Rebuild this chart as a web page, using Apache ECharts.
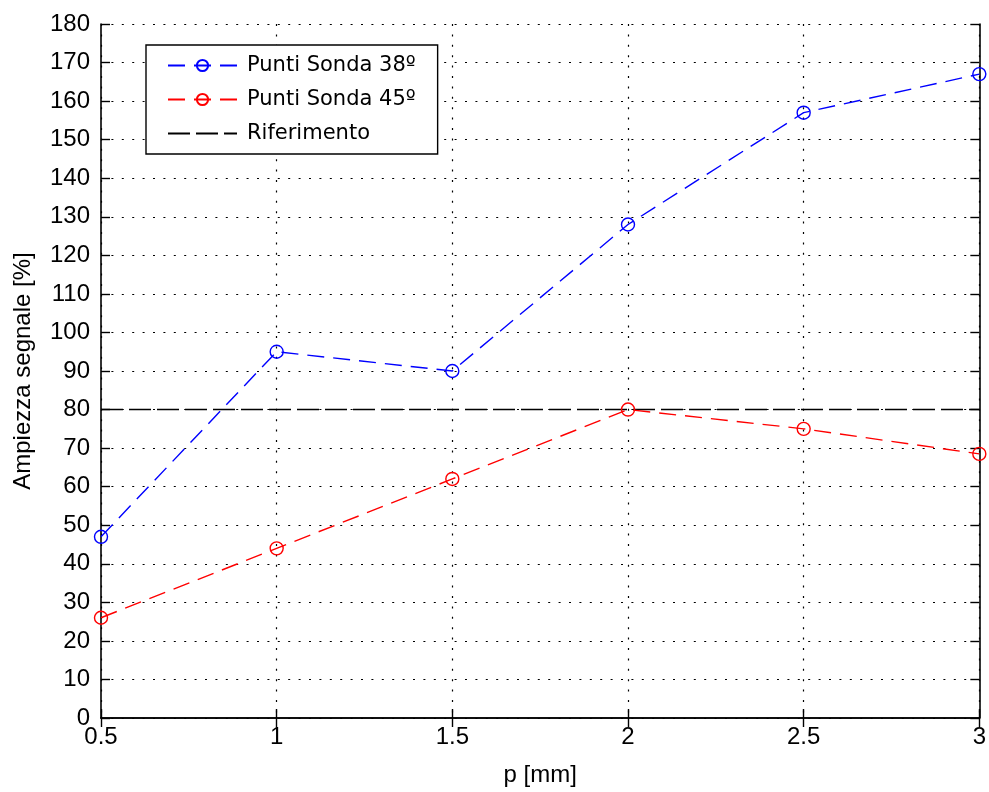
<!DOCTYPE html>
<html>
<head>
<meta charset="utf-8">
<script src="https://cdn.jsdelivr.net/npm/echarts@6/dist/echarts.min.js"></script>
<style>
  html, body { margin: 0; padding: 0; background: #fff; }
  #chart { width: 989px; height: 792px; }
</style>
</head>
<body>
<div id="chart"></div>
<script>
// Probe spacing p [mm]
const pValues = [0.5, 1, 1.5, 2, 2.5, 3];
// Signal amplitude [%] for each probe angle
const sonda38 = [47, 95, 90, 128, 157, 167];
const sonda45 = [26, 44, 62, 80, 75, 68.5];
// Reference level [%] across the p range
const riferimentoX = [0.5, 3];
const riferimentoY = [80, 80];

const seriesNames = ['Punti Sonda 38º', 'Punti Sonda 45º', 'Riferimento'];
const xAxisName = 'p [mm]';
const yAxisName = 'Ampiezza segnale [%]';

const FONT = '"Liberation Sans", Arial, sans-serif';
const zip = (xs, ys) => xs.map((x, i) => [x, ys[i]]);
const CLEAR = 'rgba(0,0,0,0)';

const dotted = { color: '#000', width: 1.2, type: [2, 8.4] };
const frame = { show: true, lineStyle: { color: '#000', width: 1.6 } };
const innerTick = { show: true, inside: true, length: 9, lineStyle: { color: '#000', width: 1.4 } };

function probeSeries(name, data, color) {
  return {
    name, type: 'line', data, xAxisIndex: 0, yAxisIndex: 0,
    symbol: 'circle', symbolSize: 13,
    itemStyle: { color: CLEAR, borderColor: color, borderWidth: 1.4 },
    lineStyle: { color, width: 1.4, type: [17, 9] },
    emphasis: { disabled: true },
    z: 3
  };
}

const chart = echarts.init(document.getElementById('chart'), null, { renderer: 'canvas' });
chart.setOption({
  animation: false,
  backgroundColor: '#fff',
  grid: { left: 101, right: 7, top: 24, bottom: 74, containLabel: false },
  legend: {
    orient: 'vertical', left: 146, top: 45,
    padding: [10, 22, 10, 21],
    itemWidth: 69, itemHeight: 14, itemGap: 13,
    backgroundColor: '#fff', borderColor: '#000', borderWidth: 1.4, borderRadius: 0,
    textStyle: { fontFamily: '"DejaVu Sans", sans-serif', fontSize: 21, color: '#000', padding: [0, 0, 0, 5] },
    data: [
      seriesNames[0],
      seriesNames[1],
      { name: seriesNames[2], itemStyle: { color: CLEAR, borderColor: CLEAR, borderWidth: 0 } }
    ],
    selectedMode: false
  },
  xAxis: [
    {
      type: 'value', position: 'bottom', min: 0.5, max: 3, interval: 0.5,
      name: xAxisName, nameLocation: 'middle', nameGap: 45,
      nameTextStyle: { fontFamily: FONT, fontSize: 24, color: '#000' },
      axisLine: frame, axisTick: innerTick,
      axisLabel: { fontFamily: FONT, fontSize: 24, color: '#000', margin: 7 },
      splitLine: { show: true, lineStyle: dotted }
    },
    {
      type: 'value', position: 'top', min: 0.5, max: 3, interval: 0.5,
      axisLine: frame, axisTick: innerTick,
      axisLabel: { show: false }, splitLine: { show: false }
    }
  ],
  yAxis: [
    {
      type: 'value', position: 'left', min: 0, max: 180, interval: 10,
      name: yAxisName, nameLocation: 'middle', nameGap: 66, nameRotate: 90,
      nameTextStyle: { fontFamily: FONT, fontSize: 24, color: '#000' },
      axisLine: frame, axisTick: innerTick,
      axisLabel: { fontFamily: FONT, fontSize: 24, color: '#000', margin: 11 },
      splitLine: { show: true, lineStyle: dotted }
    },
    {
      type: 'value', position: 'right', min: 0, max: 180, interval: 10,
      axisLine: frame, axisTick: innerTick,
      axisLabel: { show: false }, splitLine: { show: false }
    }
  ],
  series: [
    probeSeries(seriesNames[0], zip(pValues, sonda38), '#0000ff'),
    probeSeries(seriesNames[1], zip(pValues, sonda45), '#ff0000'),
    {
      name: seriesNames[2], type: 'line', data: zip(riferimentoX, riferimentoY),
      xAxisIndex: 0, yAxisIndex: 0, symbol: 'circle', showSymbol: false,
      itemStyle: { color: CLEAR, borderColor: CLEAR, borderWidth: 0 },
      lineStyle: { color: '#000', width: 1.4, type: [22, 6] },
      emphasis: { disabled: true },
      z: 2
    }
  ]
});
</script>
</body>
</html>
